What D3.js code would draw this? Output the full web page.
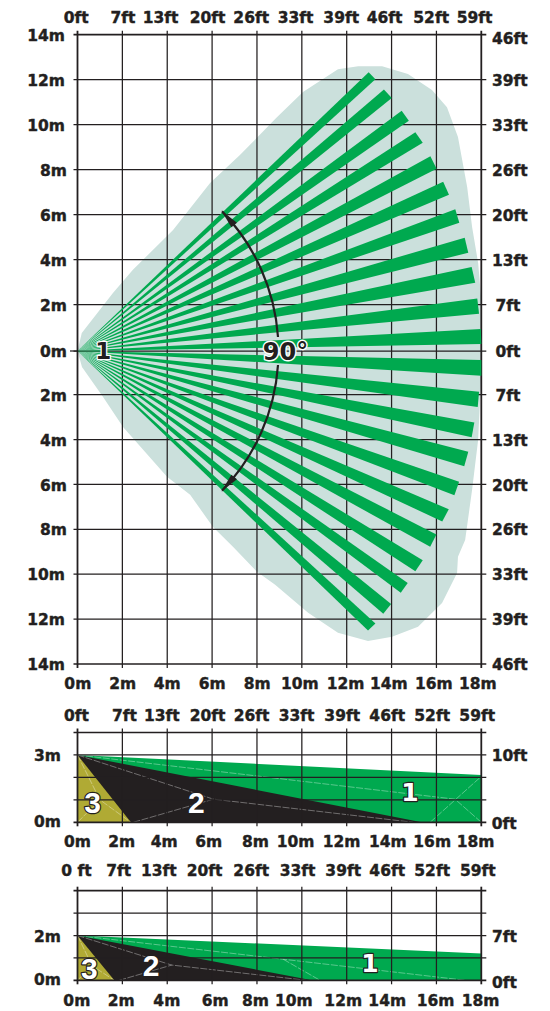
<!DOCTYPE html>
<html><head><meta charset="utf-8">
<script src="https://cdn.jsdelivr.net/npm/d3@7/dist/d3.min.js"></script>
<style>html,body{margin:0;padding:0;background:#fff}svg{display:block}</style>
</head><body><svg id="c" width="550" height="1011"></svg>
<script>
// ---------- data (metres) ----------
const distanceM = [0,2,4,6,8,10,12,14,16,18];
const distanceFt = ["0ft","7ft","13ft","20ft","26ft","33ft","39ft","46ft","52ft","59ft"];
const distanceFtLow = ["0 ft","7ft","13ft","20ft","26ft","33ft","39ft","46ft","52ft","59ft"];
const planTicksM = [14,12,10,8,6,4,2,0,-2,-4,-6,-8,-10,-12,-14];
const planTicksFt = ["46ft","39ft","33ft","26ft","20ft","13ft","7ft","0ft","7ft","13ft","20ft","26ft","33ft","39ft","46ft"];
const heightGrid = [0,1,2,3,4];

// detection beams: the two far corners of each beam [x1,y1,x2,y2]
const beams = [
 [12.98,12.33,13.28,12.02],[13.66,11.56,14.01,11.19],[14.45,10.62,14.77,10.18],
 [15.06,9.66,15.39,9.20],[15.73,8.60,16.01,8.04],[16.30,7.47,16.56,6.89],
 [16.84,6.24,17.02,5.64],[17.26,4.98,17.42,4.31],[17.57,3.68,17.73,2.98],
 [17.82,2.28,17.90,1.61],[17.98,0.95,18,0.30],[18,-0.41,18,-1.13],
 [17.90,-1.86,17.84,-2.55],[17.69,-3.24,17.57,-3.90],[17.42,-4.54,17.24,-5.19],
 [17.01,-5.88,16.80,-6.48],[16.55,-7.10,16.26,-7.65],[16.00,-8.23,15.72,-8.78],
 [15.39,-9.38,15.06,-9.87],[14.72,-10.39,14.41,-10.83],[13.98,-11.33,13.63,-11.76],
 [13.28,-12.19,12.95,-12.51]];

// pale coverage outline
const coverage = [[0,0],[0.19,0.78],[1.58,2.52],[2.47,3.55],[4.26,5.32],[5.91,7.41],[7.24,8.65],
 [8.81,10.25],[10.05,11.45],[11.61,12.47],[12.51,12.60],[13.58,12.60],[14.73,12.25],[15.80,11.54],
 [16.47,10.78],[16.96,9.45],[17.37,7.23],[17.59,5.45],[17.86,3.85],[18,2.21],[18,-1.0],[17.86,-4.01],
 [17.59,-6.24],[17.28,-8.47],[16.96,-9.22],[16.92,-9.94],[16.25,-11.28],[15.18,-12.34],[14.02,-12.79],
 [12.95,-12.97],[11.61,-12.61],[10.28,-11.72],[8.81,-10.47],[8.00,-9.89],[6.93,-8.78],[6.04,-7.89],
 [5.02,-6.46],[3.99,-5.66],[2.03,-3.44],[1.14,-2.1],[0.2,-0.73]];

const sweepRadiusM = 8.96;
const sweepDeg = [[46,86],[94,134]];

// side view, 3 m mount
const side3 = {
 green:[[0,3],[18,2.11],[18,0],[0,0]],
 black:[[0,3],[15.35,0],[0,0]],
 olive:[[0,3],[2.38,0],[0,0]],
 dashes:[[[0,3],[16.83,1.03],[18,0]],[[15.72,0],[17.95,2.0]],
         [[0,3],[6.06,1.03],[14.96,0]],[[2.49,0],[6.06,1.03]],
         [[0,3],[1,1]],[[0,0],[1,1],[2.38,0]]]};
// side view, 2 m mount
const side2 = {
 green:[[0,2],[18,1.2],[18,0],[0,0]],
 black:[[0,2],[10.45,0],[0,0]],
 olive:[[0,2],[1.64,0],[0,0]],
 dashes:[[[0,2],[17.3,0]],[[9.17,0.94],[10.81,0]],
         [[0,2],[4.2,0.68],[10.2,0]],[[1.86,0],[4.2,0.68]],
         [[0,2],[0.65,0.65]],[[0,0],[0.65,0.65],[1.64,0]]]};

// ---------- style ----------
const ink="#231f20", GREEN="#00a94f", PALE="#cbe0dc", OLIVE="#b0aa34";
const FONT="'DejaVu Sans'";
const svg=d3.select("#c");
const x=d3.scaleLinear().domain([0,18]).range([77.5,481.3]);
const yPlan=d3.scaleLinear().domain([14,2,0,-2,-14]).range([34.7,304.7,351,394.7,664]);
const yS3=d3.scaleLinear().domain([0,4]).range([822.3,732.5]);
const yS2=d3.scaleLinear().domain([0,4]).range([980.3,890.7]);
const poly=(xs,ys)=>d3.line().x(d=>xs(d[0])).y(d=>ys(d[1]));

// grid + frame
function grid(g,ys,yVals,top,bottom){
  const L=x(0),R=x(18);
  const e=g.append("g").attr("stroke",ink);
  e.selectAll(".v").data(distanceM).join("line")
    .attr("x1",d=>x(d)).attr("x2",d=>x(d)).attr("y1",top-4).attr("y2",bottom+4)
    .attr("stroke-width",d=>(d===0||d===18)?1.8:1.25);
  e.selectAll(".h").data(yVals).join("line")
    .attr("y1",d=>ys(d)).attr("y2",d=>ys(d)).attr("x1",L-4).attr("x2",R+5)
    .attr("stroke-width",d=>(ys(d)===top||ys(d)===bottom)?1.7:1.25);
}

// text axes built from d3 axes; only the label text is kept from them
function labelAxis(g,gen,vals,labels,place){
  const a=g.append("g").call(gen.tickValues(vals).tickFormat((d,i)=>labels[i]).tickSize(0));
  a.select(".domain").remove();
  a.selectAll("line").remove();
  a.attr("font-family",FONT).attr("font-size",15.5).attr("font-weight",700);
  a.selectAll("text").attr("fill",ink).attr("stroke",ink).attr("stroke-width",0.4).attr("dy",null).each(function(d,i){
    const p=place(d,i); d3.select(this).attr("x",p[0]).attr("y",p[1]).attr("text-anchor",p[2]||"middle");
  });
}
function xLabels(g,labels,baseY,centres){
  labelAxis(g,d3.axisBottom(x),distanceM,labels,(d,i)=>[centres[i]-x(d),baseY]);
}

// ---------- plan view ----------
const plan=svg.append("g");
plan.append("path").attr("d",poly(x,yPlan)(coverage)+"Z").attr("fill",PALE);
grid(plan,yPlan,planTicksM,yPlan(14),yPlan(-14));
plan.append("line").attr("x1",x(0)-7.5).attr("x2",x(0)).attr("y1",yPlan(0)).attr("y2",yPlan(0)).attr("stroke",ink).attr("stroke-width",1.25);
plan.append("g").selectAll("path").data(beams).join("path")
  .attr("d",b=>poly(x,yPlan)([[0,0],[b[0],b[1]],[b[2],b[3]]])+"Z").attr("fill",GREEN);

// sweep arc with arrow heads
const cx=x(0),cy=yPlan(0),rad=x(sweepRadiusM)-x(0);
const sweep=plan.append("g").attr("transform",`translate(${cx},${cy})`);
const rd=Math.PI/180;
sweep.selectAll("path").data(sweepDeg).join("path")
  .attr("d",d=>d3.arc()({innerRadius:rad-1.1,outerRadius:rad+1.1,startAngle:d[0]*rd,endAngle:d[1]*rd}))
  .attr("fill",ink);
[[46,1],[134,-1]].forEach(([a,s])=>{
  const t=a*rd, pt=(r,an)=>[r*Math.sin(an),-r*Math.cos(an)];
  const tip=pt(rad,t-s*0.3*rd), b1=pt(rad+3.6,t+s*5.2*rd), b2=pt(rad-3.6,t+s*5.2*rd);
  sweep.append("path").attr("d",d3.line()([tip,b1,b2])+"Z").attr("fill",ink);
});

function tag(g,txt,px,py,size,fill,halo,sw,fam){
  g.append("text").text(txt).attr("x",px).attr("y",py).attr("dy","0.36em").attr("text-anchor","middle")
   .attr("font-family",fam||FONT).attr("font-weight",700).attr("font-size",size)
   .attr("fill",fill).attr("stroke",halo).attr("stroke-width",sw).attr("paint-order","stroke").attr("stroke-linejoin","round");
}
tag(plan,"1",103.3,351,23,ink,"#fff",2.6);
tag(plan,"90°",285.5,351,24,ink,"#fff",2.8);

xLabels(plan,distanceFt,22.7,[75.7,122.4,160,207,250.7,295,340.7,384,430.7,474]);
xLabels(plan,distanceM.map(d=>d+"m"),688.5,[77.3,122.3,166.7,211.7,256.7,299.3,345,388.3,433.3,477.3]);
labelAxis(plan,d3.axisLeft(yPlan),planTicksM,planTicksM.map(d=>Math.abs(d)+"m"),
  d=>[Math.abs(d)>=10?65:67,5.6,"end"]);
labelAxis(plan,d3.axisRight(yPlan),planTicksM,planTicksFt,
  (d,i)=>[planTicksFt[i].length===3?495.5:492,(i===0?3:0)+5.6,"start"]);

// ---------- side views ----------
function sideView(data,ys,top,bottom,yVals){
  const g=svg.append("g"), ln=poly(x,ys);
  g.append("path").attr("d",ln(data.green)+"Z").attr("fill",GREEN);
  g.append("path").attr("d",ln(data.black)+"Z").attr("fill",ink);
  g.append("path").attr("d",ln(data.olive)+"Z").attr("fill",OLIVE);
  g.append("g").selectAll("path").data(data.dashes).join("path").attr("d",d=>ln(d))
    .attr("fill","none").attr("stroke","#fff").attr("stroke-opacity",0.5).attr("stroke-width",0.7).attr("stroke-dasharray","7 1.5");
  grid(g,ys,yVals,top,bottom);
  return g;
}
const s3=sideView(side3,yS3,yS3(4),yS3(0),heightGrid);
tag(s3,"3",92.7,802,30,"#fff",ink,2.4,"'Liberation Sans'");
tag(s3,"2",196.3,802,30,"#fff",ink,2.4,"'Liberation Sans'");
tag(s3,"1",410,792,25,"#fff",ink,2.4);
xLabels(s3,distanceFt,720.7,[76,124,161.3,207,251,296,341.7,386.7,431.7,476.7]);
xLabels(s3,distanceM.map(d=>d+"m"),846.7,[77,121.3,163.7,208.3,255,295,341,387.3,431.7,475]);
labelAxis(s3,d3.axisLeft(yS3),[3,0],["3m","0m"],d=>[61,d===0?4:5.6,"end"]);
labelAxis(s3,d3.axisRight(yS3),[3,0],["10ft","0ft"],d=>[491.7,6,"start"]);

const s2=sideView(side2,yS2,yS2(4),yS2(0),heightGrid);
tag(s2,"3",89.3,967.7,30,"#fff",ink,2.4,"'Liberation Sans'");
tag(s2,"2",151,965,30,"#fff",ink,2.4,"'Liberation Sans'");
tag(s2,"1",370,963.3,25,"#fff",ink,2.4);
xLabels(s2,distanceFtLow,875.7,[76,118.3,158.3,204,250.7,297,342.7,386.7,431.7,477.3]);
xLabels(s2,distanceM.map(d=>d+"m"),1006,[76.3,120.7,166.3,214.7,255,293.3,342.7,386.7,435,480]);
labelAxis(s2,d3.axisLeft(yS2),[2,0],["2m","0m"],d=>[61,d===0?4.5:5.6,"end"]);
labelAxis(s2,d3.axisRight(yS2),[2,0],["7ft","0ft"],d=>[492,d===0?7:6,"start"]);
</script></body></html>
